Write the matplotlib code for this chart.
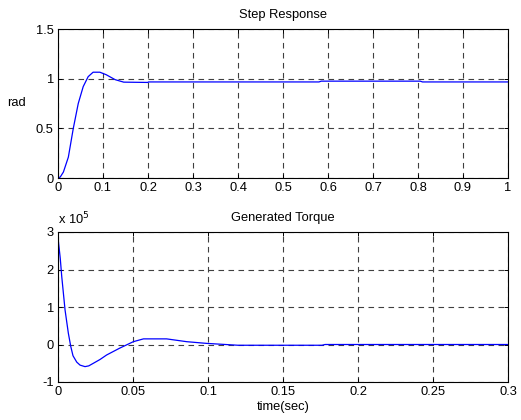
import numpy as np
import matplotlib.pyplot as plt

plt.rcParams['font.family'] = ['Liberation Sans', 'DejaVu Sans']
plt.rcParams['font.size'] = 9.3

# step response (rad)
step_t = [0, 0.005, 0.012, 0.023, 0.034, 0.045, 0.056, 0.067, 0.078, 0.093,
          0.107, 0.127, 0.146, 0.2, 0.201, 0.58, 0.585, 0.805, 0.81, 1.0]
step_y = [0, 0.01, 0.06, 0.21, 0.5, 0.75, 0.92, 1.02, 1.065, 1.065,
          1.04, 0.99, 0.965, 0.962, 0.967, 0.967, 0.975, 0.975, 0.967, 0.967]

# generated torque (x1e5)
torq_t = [0, 0.0003, 0.0015, 0.0025, 0.0047, 0.0069, 0.0085, 0.01, 0.0125,
          0.0147, 0.018, 0.0205, 0.0236, 0.028, 0.0324, 0.041, 0.0502, 0.057,
          0.0724, 0.0858, 0.099, 0.12, 0.176, 0.178, 0.3]
torq_y = [0, 2.74, 2.3, 1.81, 0.92, 0.3, -0.05, -0.3, -0.47,
          -0.55, -0.59, -0.57, -0.5, -0.4, -0.28, -0.1, 0.075, 0.15,
          0.15, 0.075, 0.03, -0.02, -0.02, 0.0, 0.0]

fig = plt.figure(figsize=(5.21, 4.20), dpi=100)
ax1 = fig.add_axes([58/521, 1-178/420, 450/521, 149/420])
ax2 = fig.add_axes([58/521, 1-382/420, 450/521, 150/420])

def style(ax):
    ax.grid(True, color='0.25', linestyle=(0, (5, 4)), linewidth=0.8)
    ax.tick_params(direction='in', top=True, right=True, length=3, width=0.7, pad=3)
    for s in ax.spines.values():
        s.set_linewidth(0.8)

ax1.plot(step_t, step_y, color='#0000ff', linewidth=0.9)
ax1.set_xlim(0, 1)
ax1.set_ylim(0, 1.5)
ax1.set_xticks(np.arange(0, 1.01, 0.1))
ax1.set_xticklabels(['0', '0.1', '0.2', '0.3', '0.4', '0.5', '0.6', '0.7', '0.8', '0.9', '1'])
ax1.set_yticks([0, 0.5, 1, 1.5])
ax1.set_yticklabels(['0', '0.5', '1', '1.5'])
ax1.set_title('Step Response', fontsize=9.3, pad=8)
ax1.set_ylabel('rad', rotation=0, labelpad=14, va='center')
style(ax1)

ax2.plot(torq_t, torq_y, color='#0000ff', linewidth=0.9)
ax2.set_xlim(0, 0.3)
ax2.set_ylim(-1, 3)
ax2.set_xticks([0, 0.05, 0.1, 0.15, 0.2, 0.25, 0.3])
ax2.set_xticklabels(['0', '0.05', '0.1', '0.15', '0.2', '0.25', '0.3'])
ax2.set_yticks([-1, 0, 1, 2, 3])
ax2.set_yticklabels(['-1', '0', '1', '2', '3'])
ax2.set_title('Generated Torque', fontsize=9.3, pad=8)
ax2.set_xlabel('time(sec)', labelpad=2)
ax2.text(0, 1.03, r'x 10$^{5}$', transform=ax2.transAxes, ha='left', va='bottom')
style(ax2)

fig.savefig('out.png', dpi=100)
